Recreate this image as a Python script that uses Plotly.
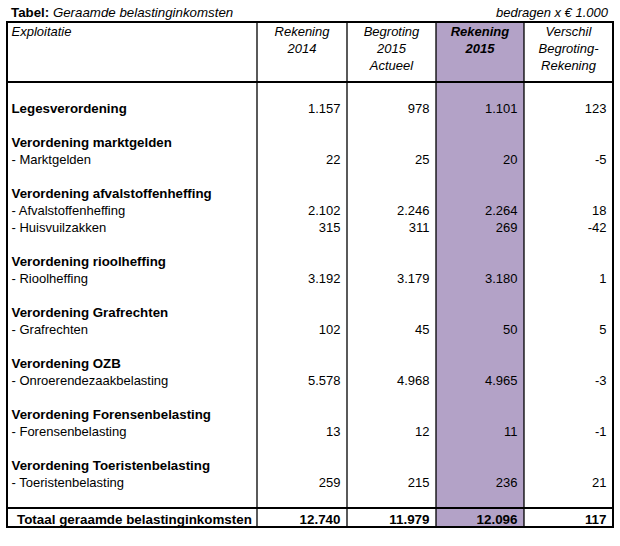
import plotly.graph_objects as go

# ---------------- data ----------------
labels = [
    "Legesverordening",
    "Verordening marktgelden", "- Marktgelden",
    "Verordening afvalstoffenheffing", "- Afvalstoffenheffing", "- Huisvuilzakken",
    "Verordening rioolheffing", "- Rioolheffing",
    "Verordening Grafrechten", "- Grafrechten",
    "Verordening OZB", "- Onroerendezaakbelasting",
    "Verordening Forensenbelasting", "- Forensenbelasting",
    "Verordening Toeristenbelasting", "- Toeristenbelasting",
]
is_heading = [True, True, False, True, False, False, True, False,
              True, False, True, False, True, False, True, False]
rekening_2014 = [1157, None, 22, None, 2102, 315, None, 3192, None, 102, None, 5578, None, 13, None, 259]
begroting_2015 = [978, None, 25, None, 2246, 311, None, 3179, None, 45, None, 4968, None, 12, None, 215]
rekening_2015 = [1101, None, 20, None, 2264, 269, None, 3180, None, 50, None, 4965, None, 11, None, 236]
verschil = [123, None, -5, None, 18, -42, None, 1, None, 5, None, -3, None, -1, None, 21]

total_label = "Totaal geraamde belastinginkomsten"
totals = [12740, 11979, 12096, 117]

header_first = ["Exploitatie"]
header_cols = [["Rekening", "2014"], ["Begroting", "2015", "Actueel"],
               ["Rekening", "2015"], ["Verschil", "Begroting-", "Rekening"]]
title_bold = "Tabel:"
title_text = "Geraamde belastinginkomsten"
unit_text = "bedragen x € 1.000"

# ---------------- layout helpers ----------------
W, H = 620, 546
col_edges = [7, 257, 347, 436, 524, 613]
top_y, head_bottom, total_top, bottom_y = 22, 82, 508, 527
line_h = 17
first_row_y = 109.5
row_slot = [0, 2, 3, 5, 6, 7, 9, 10, 12, 13, 15, 16, 18, 19, 21, 22]
purple = "#B3A2C7"
FONT = "Liberation Sans, Arial, sans-serif"
FS = 13
FSB = 13.3


def fmt(v):
    if v is None:
        return ""
    s = f"{abs(v):,}".replace(",", ".")
    return ("-" if v < 0 else "") + s


fig = go.Figure()

row_y = [first_row_y + line_h * k for k in row_slot]


def txt(x, y, text, pos, size=FS):
    fig.add_trace(go.Scatter(
        x=x, y=y, mode="text", text=text, textposition=pos,
        textfont=dict(family=FONT, size=size, color="black"),
        hoverinfo="skip", showlegend=False))


# label column (headings bold, sub rows regular)
lx = col_edges[0] + 4.5
txt([lx] * sum(is_heading), [y for y, h in zip(row_y, is_heading) if h],
    [f"<b>{l}</b>" for l, h in zip(labels, is_heading) if h], "middle right", FSB)
txt([lx] * (len(labels) - sum(is_heading)), [y for y, h in zip(row_y, is_heading) if not h],
    [l for l, h in zip(labels, is_heading) if not h], "middle right", FS)

# numeric columns
for ci, series in enumerate([rekening_2014, begroting_2015, rekening_2015, verschil]):
    xr = col_edges[ci + 2] - 6.5
    txt([xr] * len(series), row_y, [fmt(v) for v in series], "middle left")

# total row
total_y = 521
txt([col_edges[0] + 10], [total_y], [f"<b>{total_label}</b>"], "middle right", 13.4)
txt([col_edges[i + 2] - 6.5 for i in range(4)], [total_y] * 4,
    [f"<b>{fmt(v)}</b>" for v in totals], "middle left", 13.4)

# headers
hy0 = 33
txt([lx], [hy0], [f"<i>{header_first[0]}</i>"], "middle right")
for ci, lines in enumerate(header_cols):
    cx = (col_edges[ci + 1] + col_edges[ci + 2]) / 2
    if ci == 2:
        t = [f"<b><i>{s}</i></b>" for s in lines]
    else:
        t = [f"<i>{s}</i>" for s in lines]
    txt([cx] * len(lines), [hy0 + line_h * i for i in range(len(lines))], t, "middle center")

# title & unit
txt([col_edges[0] + 4], [13.4], [f"<b>{title_bold}</b> <i>{title_text}</i>"], "middle right", 13.3)
txt([608], [13.4], [f"<i>{unit_text}</i>"], "middle left")

# shapes: purple column, grid lines
shapes = [dict(type="rect", xref="x", yref="y", x0=col_edges[3], x1=col_edges[4],
               y0=top_y, y1=bottom_y, fillcolor=purple, line=dict(width=0), layer="below")]
for x in col_edges[1:-1]:
    shapes.append(dict(type="line", xref="x", yref="y", x0=x, x1=x, y0=top_y, y1=bottom_y,
                       line=dict(color="black", width=1.3)))
for y in [head_bottom, total_top]:
    shapes.append(dict(type="line", xref="x", yref="y", x0=col_edges[0], x1=col_edges[-1],
                       y0=y, y1=y, line=dict(color="black", width=2)))
shapes.append(dict(type="rect", xref="x", yref="y", x0=col_edges[0], x1=col_edges[-1],
                   y0=top_y, y1=bottom_y, line=dict(color="black", width=2), fillcolor="rgba(0,0,0,0)"))

fig.update_layout(
    width=W, height=H, margin=dict(l=0, r=0, t=0, b=0),
    paper_bgcolor="white", plot_bgcolor="white",
    xaxis=dict(range=[0, W], visible=False, fixedrange=True),
    yaxis=dict(range=[H, 0], visible=False, fixedrange=True),
    shapes=shapes,
)
fig.write_html("out.html", config={"displayModeBar": False},
               post_script="document.body.style.margin='0px';")
